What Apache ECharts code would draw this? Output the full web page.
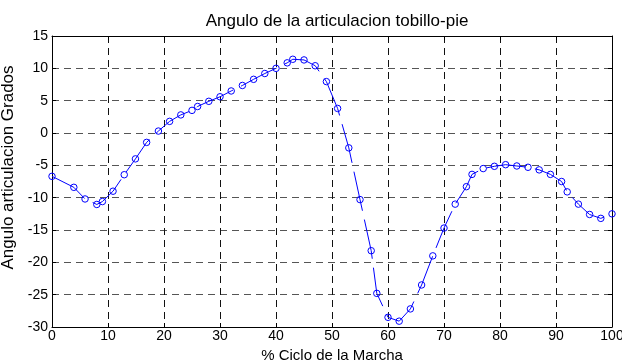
<!DOCTYPE html>
<html>
<head>
<meta charset="utf-8">
<script src="https://cdn.jsdelivr.net/npm/echarts@6/dist/echarts.min.js"></script>
<style>html,body{margin:0;padding:0;background:#fff}#c{width:622px;height:364px}</style>
</head>
<body>
<div id="c"></div>
<script>
var ciclo = [0,3.9,5.9,8,9,10.9,12.9,14.9,16.9,19,21,23,25,26,28,30,32,34,36,38,40,42,43,45,47,49,51,53,55,57,58,60,62,64,66,68,70,72,74,75,77,79,81,83,85,87,89,91,92,94,96,98,100];
var angulo = [-6.7,-8.4,-10.2,-11.05,-10.6,-9.0,-6.45,-4.0,-1.45,0.3,1.8,2.8,3.5,4.1,4.9,5.6,6.5,7.35,8.3,9.2,10.0,10.85,11.4,11.3,10.4,7.95,3.8,-2.3,-10.3,-18.2,-24.8,-28.5,-29.1,-27.2,-23.5,-19.0,-14.7,-11.0,-8.3,-6.4,-5.5,-5.15,-4.9,-5.1,-5.3,-5.7,-6.4,-7.5,-9.1,-11.0,-12.6,-13.2,-12.5];
var titulo = 'Angulo de la articulacion tobillo-pie';
var nombreX = '% Ciclo de la Marcha';
var nombreY = 'Angulo articulacion Grados';

var pts = ciclo.map(function(x, i){ return [x, angulo[i]]; });
var font = 'Liberation Sans, Arial, sans-serif';
var chart = echarts.init(document.getElementById('c'));
chart.setOption({
  animation: false,
  backgroundColor: '#fff',
  title: { text: titulo, left: 332, top: 8, textAlign: 'center',
    textStyle: { fontFamily: font, fontSize: 17, fontWeight: 'normal', color: '#000' } },
  grid: { left: 52, right: 10, top: 36, bottom: 37, containLabel: false, outerBoundsMode: 'none' },
  xAxis: [{
    type: 'value', min: 0, max: 100, interval: 10,
    name: nombreX, nameLocation: 'middle', nameGap: 19,
    nameTextStyle: { fontFamily: font, fontSize: 15, color: '#000' },
    axisLine: { onZero: false, lineStyle: { color: '#000', width: 1 } },
    axisTick: { inside: true, length: 4, lineStyle: { color: '#000' } },
    axisLabel: { fontFamily: font, fontSize: 14, color: '#000', margin: 2 },
    splitLine: { show: true, lineStyle: { color: '#111', type: [7, 5], width: 1 } }
  }, {
    type: 'value', min: 0, max: 100, interval: 10, position: 'top',
    axisLine: { onZero: false, lineStyle: { color: '#000', width: 1 } },
    axisTick: { inside: true, length: 4, lineStyle: { color: '#000' } },
    axisLabel: { show: false }, splitLine: { show: false }
  }],
  yAxis: [{
    type: 'value', min: -30, max: 15, interval: 5,
    name: nombreY, nameLocation: 'middle', nameGap: 28, nameRotate: 90,
    nameTextStyle: { fontFamily: font, fontSize: 17, color: '#000', padding: [0, 0, 0, 28] },
    axisLine: { onZero: false, lineStyle: { color: '#000', width: 1 } },
    axisTick: { inside: true, length: 4, lineStyle: { color: '#000' } },
    axisLabel: { fontFamily: font, fontSize: 14, color: '#000', margin: 4 },
    splitLine: { show: true, lineStyle: { color: '#555', type: [7, 5], width: 1 } }
  }, {
    type: 'value', min: -30, max: 15, interval: 5, position: 'right',
    axisLine: { onZero: false, lineStyle: { color: '#000', width: 1 } },
    axisTick: { inside: true, length: 4, lineStyle: { color: '#000' } },
    axisLabel: { show: false }, splitLine: { show: false }
  }],
  series: [{
    type: 'line', data: pts, xAxisIndex: 0, yAxisIndex: 0,
    symbol: 'circle', symbolSize: 6.5, showSymbol: true, showAllSymbol: true,
    itemStyle: { color: 'rgba(0,0,0,0)', borderColor: '#0000ff', borderWidth: 1 },
    lineStyle: { color: '#0000ff', width: 1, type: [40, 9] },
    z: 5
  }]
});
</script>
</body>
</html>
